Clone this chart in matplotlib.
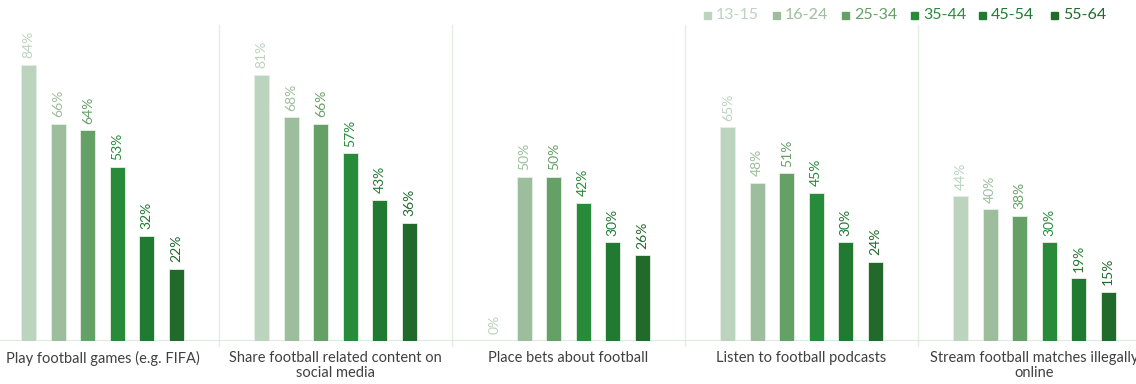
import numpy as np
import matplotlib
matplotlib.use('Agg')
import matplotlib.pyplot as plt
from matplotlib.patches import Rectangle

plt.rcParams['font.family'] = ['Lato', 'DejaVu Sans']

categories = ['Play football games (e.g. FIFA)',
              'Share football related content on\nsocial media',
              'Place bets about football',
              'Listen to football podcasts',
              'Stream football matches illegally\nonline']
age_groups = ['13-15', '16-24', '25-34', '35-44', '45-54', '55-64']
colors = ['#bcd3be', '#9cbe9c', '#65a067', '#288b39', '#207a31', '#22692c']

# percent per age group, one list per category
values = {
    '13-15': [84, 81, 0, 65, 44],
    '16-24': [66, 68, 50, 48, 40],
    '25-34': [64, 66, 50, 51, 38],
    '35-44': [53, 57, 42, 45, 30],
    '45-54': [32, 43, 30, 30, 19],
    '55-64': [22, 36, 26, 24, 15],
}

fig = plt.figure(figsize=(11.36, 3.84), dpi=100)
# axes a bit wider than the figure so the outer groups get cut like the original
ax = fig.add_axes([-14 / 1136, 43 / 384, 1165 / 1136, 329 / 384])

x = np.arange(len(categories))
step = 0.1266
width = 0.066
for i, age in enumerate(age_groups):
    pos = x + (i - 2.5) * step
    ax.bar(pos, values[age], width=width, color=colors[i],
           edgecolor='#e6efe6', linewidth=0.6, zorder=3)
    for p, v in zip(pos, values[age]):
        ax.text(p, v + 2, f'{v}%', rotation=90, ha='center', va='bottom',
                fontsize=10, color=colors[i], zorder=4)

ax.set_xlim(-0.5, len(categories) - 0.5)
ax.set_ylim(0, 100)

# light separators between groups and the baseline
for s in x[:-1] + 0.5:
    ax.plot([s, s], [-1.5, 96], color='#e3efe3', lw=1, clip_on=False, zorder=1)
ax.axhline(0, color='#d5e8d4', lw=1.2, zorder=2)

for spine in ax.spines.values():
    spine.set_visible(False)
ax.set_yticks([])
ax.set_xticks(x)
ax.set_xticklabels(categories, fontsize=10.5, color='#404040', linespacing=1.15)
ax.tick_params(axis='x', length=0, pad=7)

# legend along the top right
leg_x = [704, 773, 842, 911, 979, 1051]
for i, age in enumerate(age_groups):
    fx = leg_x[i] / 1136
    fig.patches.append(Rectangle((fx, 1 - 19 / 384), 7 / 1136, 7 / 384,
                                 transform=fig.transFigure, color=colors[i]))
    fig.text(fx + 12 / 1136, 1 - 15 / 384, age, fontsize=11.5,
             color=colors[i], va='center', ha='left')

fig.savefig('out.png', dpi=100)
